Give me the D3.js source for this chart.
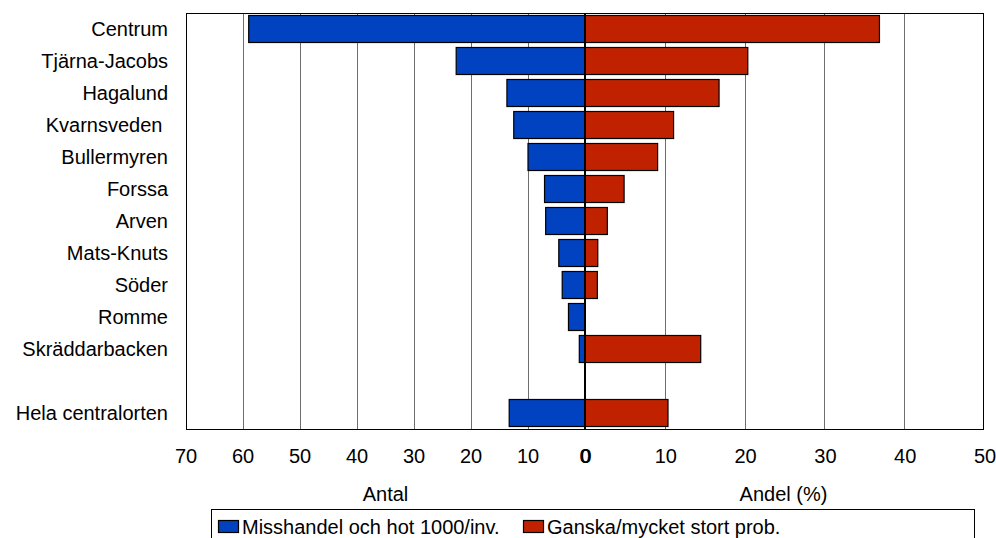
<!DOCTYPE html>
<html>
<head>
<meta charset="utf-8">
<script src="https://cdn.jsdelivr.net/npm/d3@7"></script>
<style>
  html, body { margin: 0; padding: 0; background: #fff; }
  svg { display: block; font-family: "Liberation Sans", Arial, Helvetica, sans-serif; }
</style>
</head>
<body>
<svg id="chart" width="996" height="538"></svg>
<script>
// ---- data ----
const categories = ["Centrum", "Tjärna-Jacobs", "Hagalund", "Kvarnsveden ", "Bullermyren", "Forssa", "Arven", "Mats-Knuts", "Söder", "Romme", "Skräddarbacken", " ", "Hela centralorten"];
const misshandel = [59, 22.6, 13.7, 12.5, 10, 7.1, 6.9, 4.6, 4.0, 2.9, 1.0, null, 13.3];
const andel = [36.9, 20.4, 16.8, 11.1, 9.1, 4.9, 2.8, 1.6, 1.55, 0, 14.5, null, 10.4];
const leftTicks = [70, 60, 50, 40, 30, 20, 10, 0];
const rightTicks = [0, 10, 20, 30, 40, 50];
const seriesNames = ["Misshandel och hot 1000/inv.", "Ganska/mycket stort prob."];
const axisTitles = ["Antal", "Andel (%)"];

// ---- layout ----
const colors = ["#0042C0", "#C02200"];
const plot = { left: 186, right: 984, top: 13, bottom: 429, zero: 585 };
const svg = d3.select("#chart");

const y = d3.scaleBand().domain(categories).range([plot.top, plot.bottom])
  .paddingInner(0.156).paddingOuter(0.078);
const xL = d3.scaleLinear().domain([0, 70]).range([plot.zero, plot.left]);
const xR = d3.scaleLinear().domain([0, 50]).range([plot.zero, plot.right]);

// plot background
svg.append("rect").attr("x", plot.left).attr("y", plot.top)
  .attr("width", plot.right - plot.left).attr("height", plot.bottom - plot.top)
  .attr("fill", "#fff");

// gridlines
const grid = svg.append("g").attr("stroke", "#6e6e6e").attr("stroke-width", 1);
leftTicks.filter(t => t !== 0 && t !== 70).forEach(t => {
  const x = Math.round(xL(t)) + 0.5;
  grid.append("line").attr("x1", x).attr("x2", x).attr("y1", plot.top).attr("y2", plot.bottom);
});
rightTicks.filter(t => t !== 0 && t !== 50).forEach(t => {
  const x = Math.round(xR(t)) + 0.5;
  grid.append("line").attr("x1", x).attr("x2", x).attr("y1", plot.top).attr("y2", plot.bottom);
});

// bars
const rows = categories.map((c, i) => ({ c, m: misshandel[i], a: andel[i] }));
svg.append("g").selectAll("rect").data(rows.filter(d => d.m != null && d.m > 0)).join("rect")
  .attr("x", d => xL(d.m)).attr("y", d => y(d.c))
  .attr("width", d => xL(0) - xL(d.m)).attr("height", y.bandwidth())
  .attr("fill", colors[0]).attr("stroke", "#000").attr("stroke-width", 1.2);
svg.append("g").selectAll("rect").data(rows.filter(d => d.a != null && d.a > 0)).join("rect")
  .attr("x", xR(0)).attr("y", d => y(d.c))
  .attr("width", d => xR(d.a) - xR(0)).attr("height", y.bandwidth())
  .attr("fill", colors[1]).attr("stroke", "#000").attr("stroke-width", 1.2);

// zero line
svg.append("line").attr("x1", plot.zero).attr("x2", plot.zero)
  .attr("y1", plot.top).attr("y2", plot.bottom)
  .attr("stroke", "#000").attr("stroke-width", 2);

// plot border
svg.append("rect").attr("x", plot.left + 0.5).attr("y", plot.top + 0.5)
  .attr("width", plot.right - plot.left - 1).attr("height", plot.bottom - plot.top)
  .attr("fill", "none").attr("stroke", "#000").attr("stroke-width", 1);

// category labels
svg.append("g").selectAll("text").data(categories).join("text")
  .attr("x", 168).attr("y", d => y(d) + y.bandwidth() / 2)
  .attr("dy", "0.35em").attr("text-anchor", "end")
  .attr("font-size", 20).attr("fill", "#000")
  .style("white-space", "pre")
  .text(d => d);

// tick labels
svg.append("g").selectAll("text").data(leftTicks).join("text")
  .attr("x", d => xL(d)).attr("y", 456).attr("dy", "0.35em")
  .attr("text-anchor", "middle").attr("font-size", 20).text(d => d);
svg.append("g").selectAll("text").data(rightTicks).join("text")
  .attr("x", d => xR(d) + 1).attr("y", 456).attr("dy", "0.35em")
  .attr("text-anchor", "middle").attr("font-size", 20).text(d => d);

// axis titles
svg.append("text").attr("x", (plot.left + plot.zero) / 2).attr("y", 494).attr("dy", "0.35em")
  .attr("text-anchor", "middle").attr("font-size", 20).text(axisTitles[0]);
svg.append("text").attr("x", (plot.zero + plot.right) / 2 - 1).attr("y", 494).attr("dy", "0.35em")
  .attr("text-anchor", "middle").attr("font-size", 20).text(axisTitles[1]);

// legend
svg.append("rect").attr("x", 211.5).attr("y", 509.5).attr("width", 763).attr("height", 40)
  .attr("fill", "#fff").attr("stroke", "#000").attr("stroke-width", 1);
const legendX = [218, 523];
seriesNames.forEach((name, i) => {
  svg.append("rect").attr("x", legendX[i] + 0.5).attr("y", 520.5).attr("width", 20).attr("height", 12)
    .attr("fill", colors[i]).attr("stroke", "#000").attr("stroke-width", 1.2);
  svg.append("text").attr("x", legendX[i] + 24).attr("y", 533.5)
    .attr("font-size", 20).text(name);
});
</script>
</body>
</html>
